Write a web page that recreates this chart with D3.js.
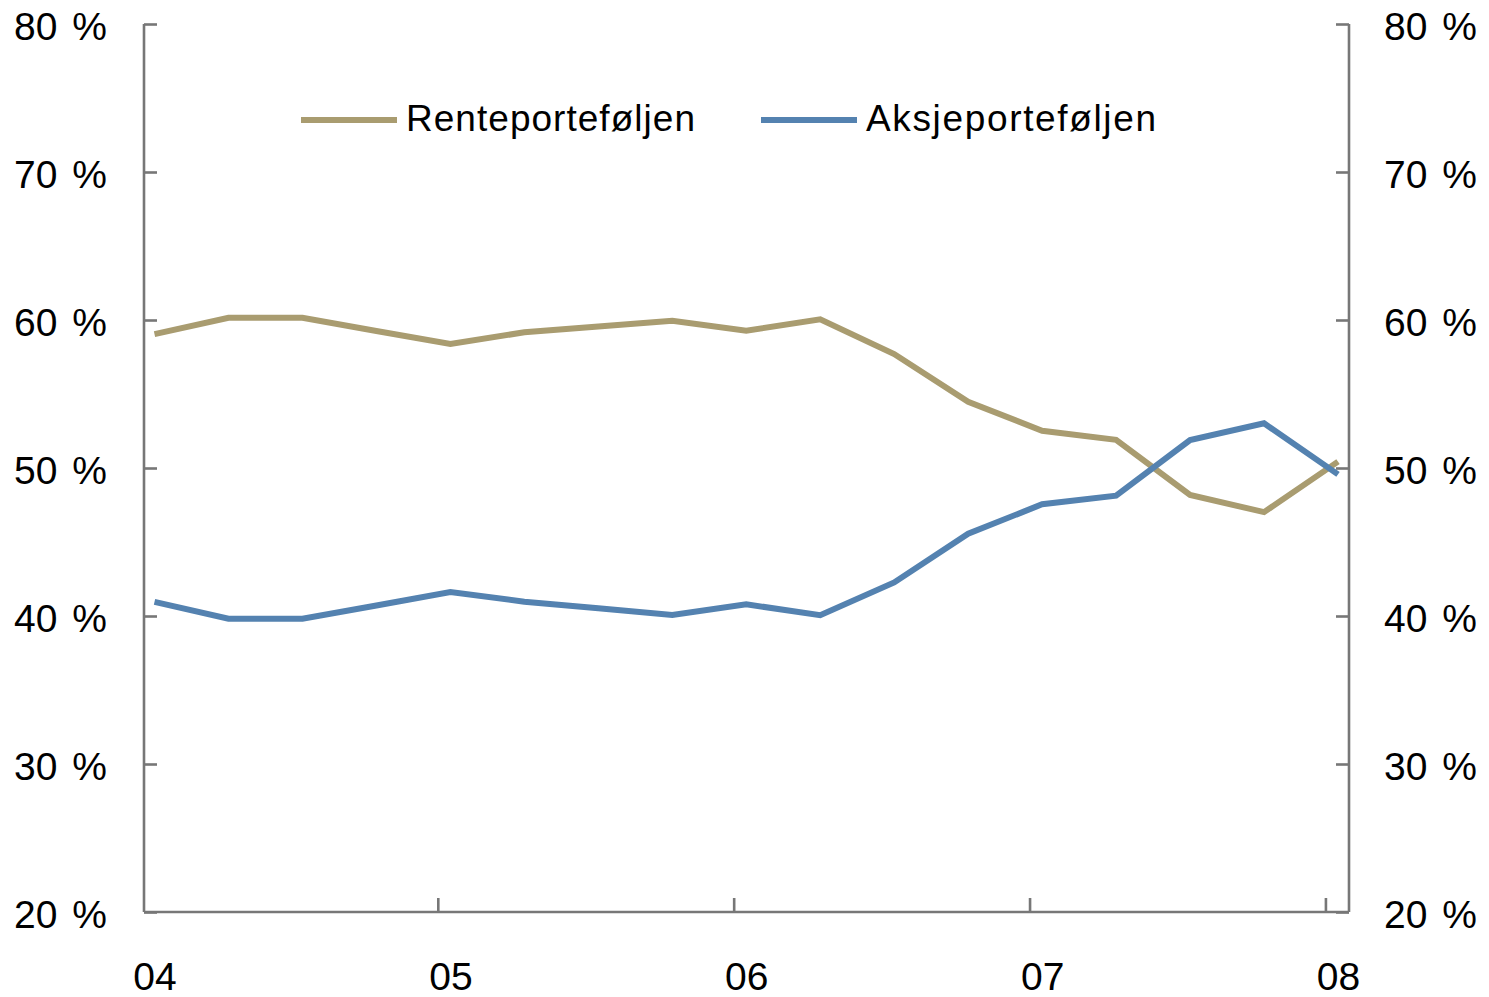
<!DOCTYPE html>
<html>
<head>
<meta charset="utf-8">
<script src="https://cdn.jsdelivr.net/npm/d3@7"></script>
<style>
  html, body { margin: 0; padding: 0; background: #fff; }
  svg { display: block; }
  text { font-family: "Liberation Sans", Arial, sans-serif; fill: #000; }
</style>
</head>
<body>
<svg id="chart" width="1489" height="997"></svg>
<script>
// Quarterly observations, 2004 Q1 .. 2008 Q1
const quarters = ["04K1","04K2","04K3","04K4","05K1","05K2","05K3","05K4",
                  "06K1","06K2","06K3","06K4","07K1","07K2","07K3","07K4","08K1"];
const rente = [59.05, 60.15, 60.15, 59.26, 58.38, 59.17, 59.56, 59.95,
               59.28, 60.05, 57.70, 54.48, 52.52, 51.90, 48.18, 47.02, 50.43];
const aksje = [40.95, 39.82, 39.82, 40.71, 41.62, 40.97, 40.52, 40.07,
               40.79, 40.05, 42.27, 45.56, 47.55, 48.13, 51.89, 53.02, 49.57];
const yearLabels = ["04", "05", "06", "07", "08"];
const yTicks = [20, 30, 40, 50, 60, 70, 80];
const seriesNames = ["Renteporteføljen", "Aksjeporteføljen"];
const seriesColors = ["#A99C70", "#5482B0"];

const svg = d3.select("#chart");
const mLeft = 144, mRight = 1349, mTop = 24, mBottom = 912;

const x = d3.scaleLinear().domain([0, quarters.length - 1]).range([154.5, 1338]);
const y = d3.scaleLinear().domain([20, 80]).range([mBottom, mTop]);

const axisColor = "#777777";
const axisW = 2.6;

// Left axis
const gL = svg.append("g").attr("transform", `translate(${mLeft},0)`)
  .call(d3.axisLeft(y).tickValues(yTicks).tickSize(-13).tickPadding(37)
        .tickFormat(d => d + " %"));
// Right axis
const gR = svg.append("g").attr("transform", `translate(${mRight},0)`)
  .call(d3.axisRight(y).tickValues(yTicks).tickSize(-13).tickPadding(35)
        .tickFormat(d => d + " %"));
// Bottom axis: tick marks between years
const yearIdx = yearLabels.map((d, i) => i * 4);
const gB = svg.append("g").attr("transform", `translate(0,${mBottom})`)
  .call(d3.axisBottom(x).tickValues(yearIdx.slice(1).map(v => v - 0.17))
        .tickSize(-14).tickFormat(""));
gB.select(".domain").remove();
svg.append("line").attr("x1", mLeft).attr("x2", mRight).attr("y1", mBottom).attr("y2", mBottom)
  .attr("stroke", axisColor).attr("stroke-width", axisW);
// Bottom labels
const gBL = svg.append("g").attr("transform", `translate(0,${mBottom})`)
  .call(d3.axisBottom(x).tickValues(yearIdx).tickSize(0).tickPadding(50)
        .tickFormat((d, i) => yearLabels[i]));
gBL.select(".domain").remove();

[gL, gR, gB].forEach(g => {
  g.select(".domain").attr("stroke", axisColor).attr("stroke-width", axisW);
  g.selectAll(".tick line").attr("stroke", axisColor).attr("stroke-width", axisW);
});
[gL, gR].forEach(g => {
  g.select(".domain").attr("d", `M0,${mTop}V${mBottom}`);
  g.selectAll(".tick text").attr("dy", "0.4em").style("word-spacing", "4px");
});
svg.selectAll(".tick text").attr("font-size", 39).attr("font-family", "Liberation Sans, Arial, sans-serif").attr("fill", "#000");

// Lines
const line = d3.line().x((d, i) => x(i)).y(d => y(d));
[rente, aksje].forEach((s, k) => {
  svg.append("path").datum(s).attr("d", line)
    .attr("fill", "none").attr("stroke", seriesColors[k])
    .attr("stroke-width", 6).attr("stroke-linejoin", "miter");
});

// Legend
const legendX = [301, 761];
const legendTextLen = [289, 290];
seriesNames.forEach((n, k) => {
  const g = svg.append("g").attr("transform", `translate(${legendX[k]},120)`);
  g.append("line").attr("x1", 0).attr("x2", 96).attr("y1", 0).attr("y2", 0)
    .attr("stroke", seriesColors[k]).attr("stroke-width", 6);
  g.append("text").attr("x", 105).attr("y", 11).attr("font-size", 37)
    .attr("textLength", legendTextLen[k]).attr("lengthAdjust", "spacing").text(n);
});
</script>
</body>
</html>
